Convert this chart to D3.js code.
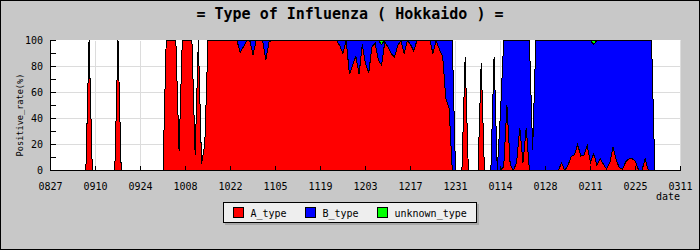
<!DOCTYPE html>
<html><head><meta charset="utf-8">
<script src="https://cdn.jsdelivr.net/npm/d3@7/dist/d3.min.js"></script>
<style>body{margin:0;background:#c8c8c8}svg{display:block}</style>
</head><body><svg id="c" width="700" height="250"></svg>
<script>
// day index 0 = 08/27, one value per day
const tickLabels = ["0827","0910","0924","1008","1022","1105","1119","1203","1217","1231","0114","0128","0211","0225","0311"];
const yMajor = [0,20,40,60,80,100];
const yMinor = [10,30,50,70,90];
const seriesNames = ["A_type","B_type","unknown_type"];
const seriesColors = ["#ff0000","#0000ff","#00ff00"];

const aType = [
0,0,0,0,0,0,0,0,0,0,
0,0,100,0,0,0,0,0,0,0,
0,100,0,0,0,0,0,0,0,0,
0,0,0,0,0,0,100,100,100,100,
15,100,100,100,100,12,100,5,20,100,
100,100,100,100,100,100,100,100,100,91,
95,100,100,89,100,100,100,85,99,100,
100,100,100,100,100,100,100,100,100,100,
100,100,100,100,100,100,100,100,100,100,
96,90,100,74,81,88,74,97,82,75,
95,98,85,81,99,95,90,87,96,100,
90,100,97,92,100,100,100,100,100,90,
100,93,88,55,48,0,0,0,0,87,
0,0,0,0,83,0,0,0,0,0,
0,3,50,5,0,6,33,6,33,0,
0,0,0,0,0,0,0,0,0,6,
0,4,11,12,20,11,12,19,6,13,
4,9,5,1,6,18,8,2,1,7,
9,9,7,0,0,9,0,0,0,0,
0,0,0,0,0,0,0];
const bType = [
0,0,0,0,0,0,0,0,0,0,
0,0,0,0,0,0,0,0,0,0,
0,0,0,0,0,0,0,0,0,0,
0,0,0,0,0,0,0,0,0,0,
0,0,0,0,0,0,0,0,0,0,
0,0,0,0,0,0,0,0,0,9,
5,0,0,11,0,0,0,15,1,0,
0,0,0,0,0,0,0,0,0,0,
0,0,0,0,0,0,0,0,0,0,
4,10,0,26,19,12,26,3,18,25,
5,2,15,16,1,5,10,13,4,0,
10,0,3,8,0,0,0,0,0,10,
0,7,12,45,52,100,0,0,0,0,
0,0,0,0,0,0,0,0,87,0,
45,97,50,95,100,94,67,94,67,100,
16,100,100,100,100,100,100,100,100,94,
100,96,89,88,80,89,88,81,94,84,
96,91,95,99,94,82,92,98,99,93,
91,91,93,100,100,91,100,100,0,0,
0,0,0,0,0,0,0];
const unknownType = [
0,0,0,0,0,0,0,0,0,0,
0,0,0,0,0,0,0,0,0,0,
0,0,0,0,0,0,0,0,0,0,
0,0,0,0,0,0,0,0,0,0,
0,0,0,0,0,0,0,0,0,0,
0,0,0,0,0,0,0,0,0,0,
0,0,0,0,0,0,0,0,0,0,
0,0,0,0,0,0,0,0,0,0,
0,0,0,0,0,0,0,0,0,0,
0,0,0,0,0,0,0,0,0,0,
0,0,0,3,0,0,0,0,0,0,
0,0,0,0,0,0,0,0,0,0,
0,0,0,0,0,0,0,0,0,0,
0,0,0,0,0,0,0,0,0,0,
0,0,0,0,0,0,0,0,0,0,
0,0,0,0,0,0,0,0,0,0,
0,0,0,0,0,0,0,0,0,3,
0,0,0,0,0,0,0,0,0,0,
0,0,0,0,0,0,0,0,0,0,
0,0,0,0,0,0,0];

const rows = aType.map((a,i)=>({day:i, A_type:a, B_type:bType[i], unknown_type:unknownType[i]}));
const nDays = (tickLabels.length-1)*14;

const svg = d3.select("#c");
const FONT = "'DejaVu Sans Mono', monospace";
const L=50.5, R=680.5, T=40.5, B=170.5;
const x = d3.scaleLinear().domain([0,nDays]).range([L,R]);
const y = d3.scaleLinear().domain([0,100]).range([B,T]);

svg.append("rect").attr("x",0.5).attr("y",0.5).attr("width",699).attr("height",249)
  .attr("fill","#c8c8c8").attr("stroke","#000");

svg.append("text").attr("x",350).attr("y",19).attr("text-anchor","middle")
  .attr("font-family",FONT).attr("font-size",15).attr("font-weight","bold")
  .text("= Type of Influenza ( Hokkaido ) =");

svg.append("rect").attr("x",L).attr("y",T-0.5).attr("width",R-L).attr("height",B-T+0.5).attr("fill","#fff");

const grid = svg.append("g").attr("stroke","#dcdcdc").attr("shape-rendering","crispEdges");
tickLabels.forEach((t,i)=>{ if(i>0) grid.append("line").attr("x1",x(i*14)).attr("x2",x(i*14)).attr("y1",T).attr("y2",B); });
[20,40,60,80].forEach(v=>grid.append("line").attr("x1",L).attr("x2",R).attr("y1",y(v)).attr("y2",y(v)));

const stack = d3.stack().keys(seriesNames);
const layers = stack(rows);
const area = d3.area().x(d=>x(d.data.day)).y0(d=>y(d[0])).y1(d=>y(d[1]));
svg.append("g").selectAll("path").data(layers).join("path")
  .attr("d",area).attr("fill",(d,i)=>seriesColors[i]).attr("stroke","#000").attr("stroke-width",1)
  .attr("stroke-linejoin","miter").attr("shape-rendering","crispEdges");

const ax = svg.append("g").attr("stroke","#000").attr("shape-rendering","crispEdges");
ax.append("line").attr("x1",L).attr("x2",L).attr("y1",T-0.5).attr("y2",B);
ax.append("line").attr("x1",L).attr("x2",R).attr("y1",B).attr("y2",B);
yMajor.concat(yMinor).forEach(v=>ax.append("line").attr("x1",L).attr("x2",L+5).attr("y1",y(v)).attr("y2",y(v)));
tickLabels.forEach((t,i)=>ax.append("line").attr("x1",x(i*14)).attr("x2",x(i*14)).attr("y1",B).attr("y2",B-5));

const tg = svg.append("g").attr("font-family",FONT).attr("font-size",10).attr("fill","#000");
yMajor.forEach(v=>tg.append("text").attr("x",43).attr("y",y(v)+3.5).attr("text-anchor","end").text(v));
tickLabels.forEach((t,i)=>tg.append("text").attr("x",x(i*14)).attr("y",190).attr("text-anchor","middle").text(t));
tg.append("text").attr("x",680).attr("y",200).attr("text-anchor","end").text("date");
svg.append("text").attr("transform","translate(23,115) rotate(-90)").attr("text-anchor","middle")
  .attr("font-family",FONT).attr("font-size",8.6).text("Positive_rate(%)");

// legend
const lg = svg.append("g");
lg.append("rect").attr("x",225).attr("y",204).attr("width",254).attr("height",21).attr("fill","#a8a8a8");
lg.append("rect").attr("x",223.5).attr("y",202.5).attr("width",253).attr("height",20).attr("fill","#eeeeee").attr("stroke","#000");
const lx = [233.5,305.5,377.5];
seriesNames.forEach((n,i)=>{
  lg.append("rect").attr("x",lx[i]).attr("y",207.5).attr("width",10).attr("height",10)
    .attr("fill",seriesColors[i]).attr("stroke","#000");
  lg.append("text").attr("x",lx[i]+17).attr("y",216.5).attr("font-family",FONT).attr("font-size",10).text(n);
});
</script></body></html>
